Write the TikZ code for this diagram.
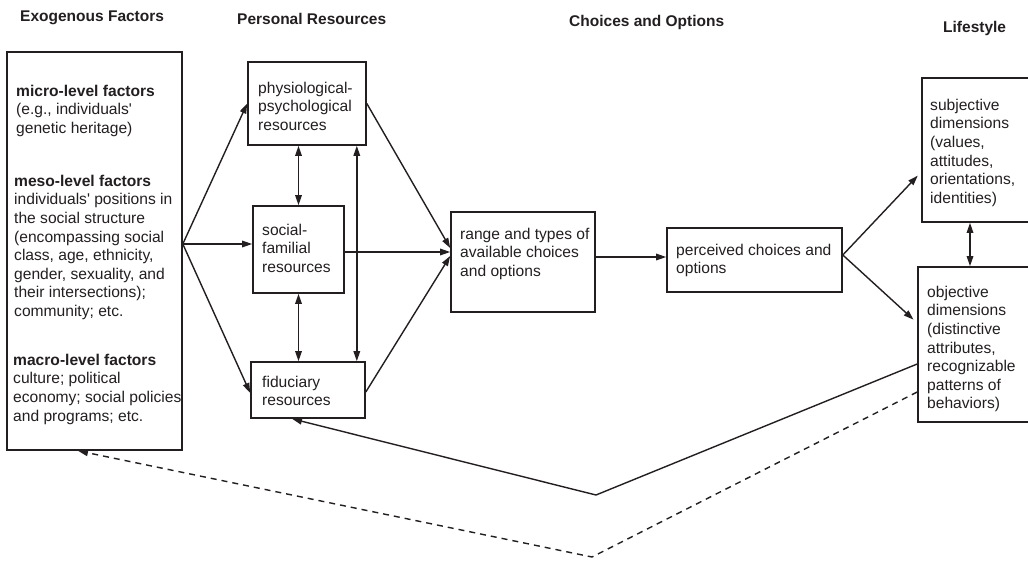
\documentclass[tikz,border=0pt]{standalone}
\usepackage{fontspec}
\setmainfont{Liberation Sans}
\usetikzlibrary{arrows.meta,calc}
\definecolor{ink}{RGB}{35,31,32}
\begin{document}
\begin{tikzpicture}[x=1pt,y=-1pt,
  box/.style={draw=ink, line width=1.6pt, inner sep=0pt, rectangle},
  txt/.style={anchor=north west, inner sep=0pt, align=left, text=ink,
    font=\fontsize{15.6}{18.6}\selectfont},
  head/.style={anchor=base west, inner sep=0pt, text=ink,
    font=\fontsize{15.5}{18}\selectfont\bfseries},
  tip/.tip={Triangle[length=10pt,width=6.5pt]},
  arr/.style={draw=ink, line width=1.4pt, -tip},
  dbl/.style={draw=ink, line width=1.4pt, tip-tip}]
\useasboundingbox (0,0) rectangle (1028,562);
\clip (0,0) rectangle (1028,562);

% column headings
\node[head] (h1) at (20,21) {Exogenous Factors};
\node[head] (h2) at (237,24) {Personal Resources};
\node[head] (h3) at (569,27) {Choices and Options};
\node[head] (h4) at (943,32) {Lifestyle};

% boxes
\node[box, minimum width=175pt, minimum height=398pt] (exo)   at (94.5,251) {};
\node[box, minimum width=118pt, minimum height=83pt]  (phys)  at (307,103.5) {};
\node[box, minimum width=91pt,  minimum height=87pt]  (soc)   at (298.5,249.5) {};
\node[box, minimum width=114pt, minimum height=56pt]  (fid)   at (308,390) {};
\node[box, minimum width=144pt, minimum height=100pt] (range) at (523,262) {};
\node[box, minimum width=175pt, minimum height=64pt]  (perc)  at (754.5,260) {};
\node[box, minimum width=118pt, minimum height=144pt] (subj)  at (981,150) {};
\node[box, minimum width=122pt, minimum height=155pt] (obj)   at (979,344.5) {};

% box texts
\node[txt] (micro) at (16,84.7) {\textbf{micro-level factors}\\(e.g., individuals\textquotesingle\\genetic heritage)};
\node[txt] (meso) at (14,174.7) {\textbf{meso-level factors}\\individuals\textquotesingle{} positions in\\the social structure\\(encompassing social\\class, age, ethnicity,\\gender, sexuality, and\\their intersections);\\community; etc.};
\node[txt] (macro) at (13,353.7) {\textbf{macro-level factors}\\culture; political\\economy; social policies\\and programs; etc.};
\node[txt] (tphys) at (258,81.7) {physiological-\\psychological\\resources};
\node[txt] (tsoc) at (262,223.7) {social-\\familial\\resources};
\node[txt] (tfid) at (262,375.7) {fiduciary\\resources};
\node[txt] (trange) at (460,227.7) {range and types of\\available choices\\and options};
\node[txt] (tperc) at (676,243.7) {perceived choices and\\options};
\node[txt] (tsubj) at (930,98.7) {subjective\\dimensions\\(values,\\attitudes,\\orientations,\\identities)};
\node[txt] (tobj) at (927,285.7) {objective\\dimensions\\(distinctive\\attributes,\\recognizable\\patterns of\\behaviors)};

% exogenous factors feed the personal resources
\coordinate (exout) at ([yshift=7pt]exo.east);
\draw[arr] (exout) -- (phys.west);
\draw[arr] (exout) -- (exout -| soc.west);
\draw[arr] (exout) -- ([yshift=-3pt]fid.west);

% links among the personal resources
\draw[dbl] (soc.north) -- (soc.north |- phys.south);
\draw[dbl] (soc.south) -- (soc.south |- fid.north);
\coordinate (vtop) at ([xshift=-10pt]phys.south east);
\draw[dbl] (vtop) -- (vtop |- fid.north);

% resources shape the available choices
\draw[arr] (phys.east) -- ([yshift=14pt]range.west);
\draw[arr] ([yshift=-2.5pt]soc.east) -- ([yshift=10pt]range.west);
\draw[arr] ([yshift=-2pt]fid.east) -- ([yshift=6pt]range.west);

% choices to perceived choices
\coordinate (pin) at ([yshift=3pt]perc.west);
\draw[arr] (range.east |- pin) -- (pin);

% perceived choices to the lifestyle dimensions
\coordinate (pout) at ([yshift=5pt]perc.east);
\draw[arr, shorten >=5pt] (pout) -- ([yshift=-22pt]subj.west);
\draw[arr, shorten >=5pt] (pout) -- ([yshift=21.5pt]obj.west);
\coordinate (lsx) at ([xshift=-11pt]subj.south);
\draw[dbl] (lsx) -- (lsx |- obj.north);

% feedback loops
\coordinate (bend1) at (596,495);
\coordinate (bend2) at (592,557);
\draw[arr] ([yshift=-19.5pt]obj.west) -- (bend1) -- ([xshift=-16pt]fid.south);
\draw[arr, dash pattern=on 6pt off 5pt] ([yshift=-47.5pt]obj.west) -- (bend2) -- ([xshift=-16.5pt]exo.south);
\end{tikzpicture}
\end{document}
